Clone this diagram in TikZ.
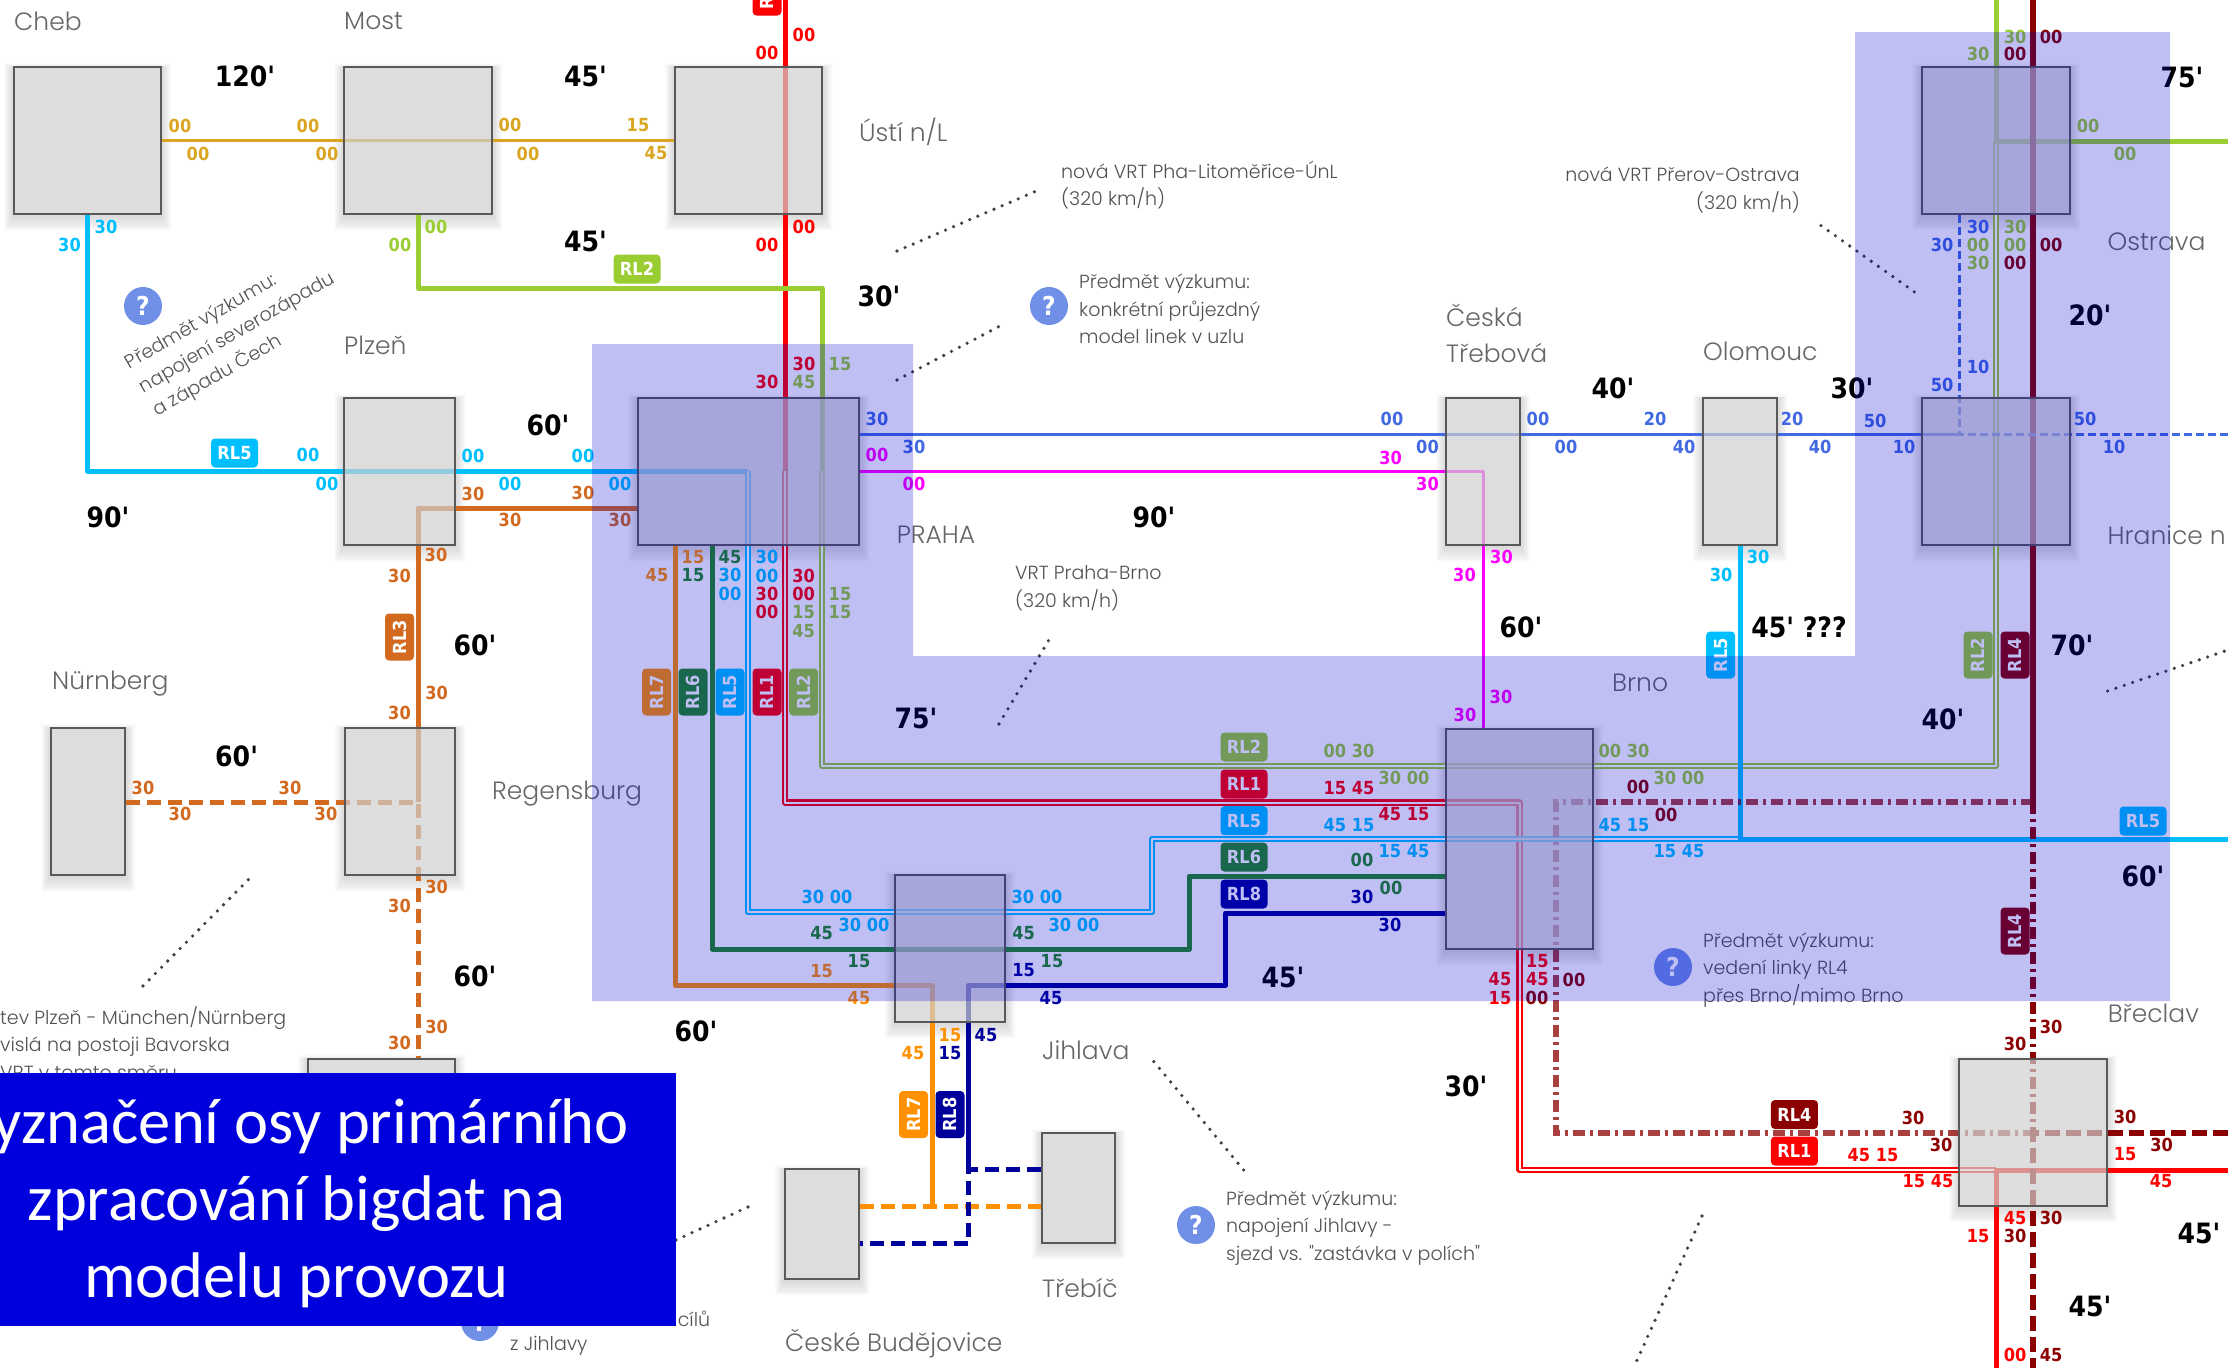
\documentclass[tikz,border=0pt]{standalone}
\usepackage{fontspec}
\newfontfamily\namefont{Poppins Light}
\newfontfamily\lblfont{DejaVu Sans Condensed Bold}
\newfontfamily\bannerfont{Carlito}
\usetikzlibrary{arrows.meta, positioning, shapes.geometric}
\definecolor{rlgold}{HTML}{DAA520}
\definecolor{rlgreen}{HTML}{9ACD32}
\definecolor{rlcyan}{HTML}{00BFFF}
\definecolor{rlbrown}{HTML}{D2691E}
\definecolor{rlred}{HTML}{FF0000}
\definecolor{rlmaroon}{HTML}{8B0000}
\definecolor{rlorange}{HTML}{FF9000}
\definecolor{rlforest}{HTML}{228B22}
\definecolor{rlnavy}{HTML}{00009B}
\definecolor{rlblue}{HTML}{4169E1}
\definecolor{rlpink}{HTML}{FF00FF}
\definecolor{askblue}{HTML}{7090E8}
\definecolor{veilblue}{RGB}{0,0,210}
\definecolor{bannerblue}{RGB}{0,0,220}
\pgfdeclarelayer{back}
\pgfdeclarelayer{rails}
\pgfdeclarelayer{veil}
\pgfdeclarelayer{top}
\pgfsetlayers{back,rails,main,veil,top}
\tikzset{
  stn/.style={draw=black!65, fill=black!19, fill opacity=.7, draw opacity=1, line width=2, inner sep=0},
  rail/.style={line width=5, line join=round},
  thin rail/.style={line width=3, line join=round},
  twin/.style={line width=2.2, double=white, double distance=2, line join=round},
  dashrail/.style={rail, dash pattern=on 14 off 7},
  dotrail/.style={line width=6, dash pattern=on 12 off 5 on 3 off 5},
  lbl/.style={font=\lblfont\fontsize{18}{20}\selectfont, inner sep=0},
  tm/.style={font=\lblfont\fontsize{28}{30}\selectfont, inner sep=0},
  town/.style={font=\namefont\fontsize{25}{36}\selectfont, text=black!60, inner sep=0, anchor=west, align=left},
  note/.style={font=\namefont\fontsize{19}{27.5}\selectfont, text=black!68, inner sep=0, anchor=west, align=left},
  rl/.style={font=\lblfont\fontsize{18}{20}\selectfont, text=white, rounded corners=4, minimum width=47, minimum height=29, inner sep=0},
  ask/.style={circle, fill=askblue, text=white, font=\lblfont\fontsize{26}{28}\selectfont, minimum size=38, inner sep=0},
  pointer/.style={line width=3.6, line cap=round, dash pattern=on 0 off 8.8, black!75},
  title/.style={font=\bannerfont\fontsize{64.5}{70}\selectfont, text=white, inner sep=0}
}
\begin{document}
\begin{tikzpicture}[x=1pt, y=-1pt]
\useasboundingbox (0,0) rectangle (2228,1368);
\foreach \n/\lx/\ly/\w/\h in {cheb/87.5/140.5/147/147, most/418/140.5/148/147, usti/748.5/140.5/147/147,
  plzen/399.5/471.5/111/147, praha/748.5/471.5/221/147, trebova/1483/471.5/74/147, olomouc/1740/471.5/74/147,
  ostrava/1996/140.5/147.5/147, hranice/1996/471.5/147.5/147, regensburg/400/801.5/110/147, nurnberg/88/801.5/74/147,
  jihlava/950/948.5/110/147, brno/1519.5/839/147/220, breclav/2033/1132.5/147.5/147,
  trebic/1078.5/1188/73/110, budejovice/822/1224/74/110, munchen/381.5/1132/147/147}{
  \node[stn, minimum width=\w, minimum height=\h] (\n) at (\lx,\ly) {};
  \begin{pgfonlayer}{back}
    \foreach \k in {1,...,9}
      \fill[black, opacity=.016, even odd rule] ([shift={(-\k,{min(\k,6)-\k})}]\n.north west) rectangle ([shift={(\k,{min(\k,6)+\k})}]\n.south east)
        (\n.north west) rectangle (\n.south east);
  \end{pgfonlayer}
}
\coordinate (rl1top) at (785,0);
\coordinate (rl1in) at (785,471);
\coordinate (rl1a) at (785,802.5);
\coordinate (rl1b) at (1519.5,1170);
\coordinate (rl1c) at (1996,1170);
\coordinate (rl1e) at (2228,1170);
\coordinate (rl1s) at (1996,1368);
\coordinate (rl2a) at (822,288);
\coordinate (rl2in) at (822,471);
\coordinate (rl2b) at (1996,766);
\coordinate (rl2c) at (1996,141);
\coordinate (rl2e) at (2228,141);
\coordinate (rl2top) at (1996,0);
\coordinate (rl3a) at (418,508);
\coordinate (rl3j) at (418,802);
\coordinate (rl4top) at (2033,0);
\coordinate (rl4a) at (2033,802);
\coordinate (rl4b) at (1555.5,802);
\coordinate (rl4c) at (1555.5,1132.5);
\coordinate (rl4d) at (2033,1132.5);
\coordinate (rl4e) at (2228,1132.5);
\coordinate (rl4s) at (2033,1368);
\coordinate (rl5in) at (748,471);
\coordinate (rl5a) at (748,912);
\coordinate (rl5b) at (1152,839);
\coordinate (rl5c) at (1740,839);
\coordinate (rl5e) at (2228,839);
\coordinate (rl6a) at (712,949);
\coordinate (rl6b) at (1189,876);
\coordinate (rl7a) at (675,985.5);
\coordinate (rl7b) at (932,1206);
\coordinate (rl8a) at (968.5,985.5);
\coordinate (rl8b) at (1225.5,913);
\coordinate (rl8c) at (968.5,1169);
\coordinate (rl8d) at (968.5,1243);
\coordinate (vrta) at (859,434.5);
\coordinate (vrtb) at (1959.5,434.5);
\coordinate (vrte) at (2228,434.5);
\coordinate (pinka) at (859,471);
\coordinate (pinkb) at (1483,471);
\begin{pgfonlayer}{rails}
  \draw[thin rail, rlgold] (cheb.east) -- (usti.west);
  \draw[rail, rlred] (rl1top) -- (rl1in);
  \draw[twin, rlred] (rl1in) -- (rl1a) -| (rl1b) -- (rl1c);
  \draw[rail, rlred] (rl1s) |- (rl1e);
  \draw[rail, rlgreen] (most.south) |- (rl2a) -- (rl2in);
  \draw[twin, rlgreen] (rl2in) |- (rl2b) -- (rl2c);
  \draw[rail, rlgreen] (rl2top) |- (rl2e);
  \draw[rail, rlcyan] (cheb.south) |- (rl5in);
  \draw[twin, rlcyan] (rl5in) -- (rl5a) -| (rl5b) -- (rl5c);
  \draw[rail, rlcyan] (olomouc.south) |- (rl5e);
  \draw[rail, rlbrown] (praha.west |- rl3a) -- (rl3a) -- (rl3j);
  \draw[dashrail, rlbrown] (nurnberg.east |- rl3j) -- (rl3j) -- (munchen.north -| rl3j);
  \draw[rail, rlorange] (praha.south -| rl7a) -- (rl7a) -| (rl7b);
  \draw[dashrail, rlorange] (budejovice.east |- rl7b) -- (trebic.west |- rl7b);
  \draw[rail, rlforest] (praha.south -| rl6a) -- (rl6a) -| (rl6b) -- (brno.west |- rl6b);
  \draw[rail, rlnavy] (brno.west |- rl8b) -- (rl8b) |- (rl8a) -- (rl8c);
  \draw[dashrail, rlnavy] (trebic.west |- rl8c) -- (rl8c) -- (rl8d) -- (budejovice.east |- rl8d);
  \draw[rail, line width=6, rlmaroon] (rl4top) -- (rl4a);
  \draw[dotrail, rlmaroon] (rl4a) -- (rl4d);
  \draw[dotrail, rlmaroon, opacity=.75] (rl4a) -- (rl4b) -- (rl4c) -- (rl4d);
  \draw[rail, line width=6, dash pattern=on 15 off 6, rlmaroon] (rl4e) -- (rl4d) -- (rl4s);
  \draw[thin rail, rlblue] (vrta) -- (vrtb);
  \draw[thin rail, dash pattern=on 8 off 4, rlblue] (vrte) -- (vrtb) -- (ostrava.south -| vrtb);
  \draw[thin rail, rlpink] (pinka) -| (trebova.south) -- (brno.north -| trebova.south);
\end{pgfonlayer}
\foreach \lx/\ly/\txt [count=\i] in {180/126/00, 198/153.5/00, 308/126/00, 327/153.5/00, 510/125/00, 528/153.5/00, 638/125/15, 656/153.5/45}
  \node[lbl, text=rlgold] (gold\i) at (\lx,\ly) {\txt};
\foreach \lx/\ly/\txt [count=\i] in {804/35/00, 767/52.5/00, 804/227/00, 767/244.5/00, 804/364/30, 767/382/30, 767/593.5/30, 767/612/00, 803.6/576/30, 803.6/594/00,
  1349/788/15 45, 1404/814/45 15, 1537.4/961/15, 1500/979/45, 1537.4/979/45, 1500/998/15, 2015/1218.5/45, 1978/1236/15, 2015/1355/00,
  1873/1155/45 15, 1928/1181.5/15 45, 2125/1153.6/15, 2161/1181.5/45}
  \node[lbl, text=rlred] (red\i) at (\lx,\ly) {\txt};
\foreach \lx/\ly/\txt [count=\i] in {436/227/00, 400/244.5/00, 840/364/15, 804/382/45, 803.6/612/15, 803.6/631/45, 840/594/15, 840/612/15, 1349/751/00 30, 1404/778/30 00,
  1624/751/00 30, 1679/778/30 00, 2015/37/30, 1978/54/30, 2088/125.7/00, 2125/153.5/00, 1978/244.5/00, 1978/263/30, 2015/227/30, 2015/244.5/00}
  \node[lbl, text=rlgreen] (green\i) at (\lx,\ly) {\txt};
\foreach \lx/\ly/\txt [count=\i] in {106/227/30, 69.5/244.5/30, 308/455/00, 327/484/00, 473/456/00, 510/484/00, 583/456/00, 620/484/00, 767/557/30, 730/575/30, 730/593.5/00, 767/576/00,
  827/897/30 00, 864/924.5/30 00, 1037/897/30 00, 1074/924.5/30 00, 1349/825/45 15, 1404/851/15 45, 1624/825/45 15, 1679/851/15 45, 1758/557/30, 1721/575/30}
  \node[lbl, text=rlcyan] (cyan\i) at (\lx,\ly) {\txt};
\foreach \lx/\ly/\txt [count=\i] in {473/494/30, 510/520/30, 583/493/30, 620/520/30, 436/555/30, 399.5/575.5/30, 436.6/693/30, 399.5/713/30, 143/788/30, 180/814/30, 290/788/30, 326/814/30,
  436.6/887/30, 399.5/906/30, 436.6/1027/30, 399.5/1043/30}
  \node[lbl, text=rlbrown] (brown\i) at (\lx,\ly) {\txt};
\foreach \lx/\ly/\txt [count=\i] in {693/557/15, 657/575/45, 821.6/971/15, 859/998/45, 950/1035/15, 913/1053/45}
  \node[lbl, text=rlorange] (orange\i) at (\lx,\ly) {\txt};
\foreach \lx/\ly/\txt [count=\i] in {730/557/45, 693/575/15, 821.6/933.5/45, 859/961/15, 1023.6/933.5/45, 1052/961/15, 1362/860/00, 1391/888/00}
  \node[lbl, text=rlforest] (forest\i) at (\lx,\ly) {\txt};
\foreach \lx/\ly/\txt [count=\i] in {1023.6/970/15, 1051/998/45, 986/1035/45, 950/1053/15, 1362/897/30, 1390/925/30}
  \node[lbl, text=rlnavy] (navy\i) at (\lx,\ly) {\txt};
\foreach \lx/\ly/\txt [count=\i] in {1638/787/00, 1666/815/00, 1537/998/00, 1574/980/00, 2051/37/00, 2015/54/00, 2015/263/00, 2051/245/00, 2051/1027/30, 2015/1044/30,
  1913/1118/30, 1941/1145/30, 2125/1116.5/30, 2161.7/1145/30, 2051/1218/30, 2015/1236/30, 2051/1354.6/45}
  \node[lbl, text=rlmaroon] (maroon\i) at (\lx,\ly) {\txt};
\foreach \lx/\ly/\txt [count=\i] in {877/419/30, 914/447/30, 1392/419/00, 1427.5/447/00, 1538/419/00, 1566/447/00, 1655/419/20, 1684/447/40, 1792/419/20, 1820/447/40, 1875/420.5/50, 1904/447/10,
  1942/384.5/50, 1978/366.7/10, 2085/419/50, 2114/447/10, 1978/227/30, 1942/244.5/30}
  \node[lbl, text=rlblue] (blue\i) at (\lx,\ly) {\txt};
\foreach \lx/\ly/\txt [count=\i] in {877/455/00, 914/484/00, 1390.6/457.5/30, 1427.5/484/30, 1501.5/557/30, 1464.5/575/30, 1501/697/30, 1465/715/30}
  \node[lbl, text=rlpink] (pink\i) at (\lx,\ly) {\txt};
\foreach \lx/\ly/\txt [count=\i] in {245/76/120', 585.5/76/45', 585.5/241/45', 548/425/60', 108/517/90', 879/296.5/30', 1154/517/90', 1613/388/40', 1521/627/60', 1852/388.5/30', 2182/77/75', 2090/315/20',
  1799/627/45' ???, 2072/645/70', 1943/719/40', 2143/876.4/60', 475/645/60', 236.6/756/60', 475/976/60', 696/1031/60', 916/718.5/75', 1283/977/45', 1466/1086/30', 2090/1306/45', 2199/1233/45'}
  \node[tm] (time\i) at (\lx,\ly) {\txt};
\foreach \lx/\ly/\txt/\col [count=\i] in {234.5/453/RL5/rlcyan, 637/269/RL2/rlgreen, 1244/747/RL2/rlgreen, 1244/784/RL1/rlred, 1244/820.7/RL5/rlcyan, 1244/857/RL6/rlforest, 1244/894/RL8/rlnavy,
  2143/821/RL5/rlcyan, 1794.4/1114.5/RL4/rlmaroon, 1794.4/1151/RL1/rlred}
  \node[rl, fill=\col] (flat\i) at (\lx,\ly) {\txt};
\foreach \lx/\ly/\txt/\col [count=\i] in {767/-8/RL1/rlred, 399.5/637/RL3/rlbrown, 656.6/692/RL7/rlorange, 693/692/RL6/rlforest, 730/692/RL5/rlcyan, 767/692/RL1/rlred, 803.6/692/RL2/rlgreen,
  913.5/1114.5/RL7/rlorange, 950/1114.5/RL8/rlnavy, 1720.6/655/RL5/rlcyan, 1978/655/RL2/rlgreen, 2015/655/RL4/rlmaroon, 2015/931/RL4/rlmaroon}
  \node[rl, rotate=90, fill=\col] (up\i) at (\lx,\ly) {\txt};
\foreach \lx/\ly/\txt [count=\i] in {14/21/Cheb, 344/21/Most, 344/345.6/Plzeň, 896.6/534.5/PRAHA, 1703/351.6/Olomouc, 2107.4/242/Ostrava, 2107.4/535.5/Hranice n, 1612/683/Brno,
  2107.6/1013.5/Břeclav, 492/794/Regensburg, 52/684/Nürnberg, 1042/1050/Jihlava, 1042/1288/Třebíč, 785/1344/České Budějovice}
  \node[town] (town\i) at (\lx,\ly) {\txt};
\node[town] (townusti) at (859,132) {Ústí n/L};
\node[town] (townct) at (1446,333) {Česká\\Třebová};
\node[note] (notevrt) at (1061,185) {nová VRT Pha-Litoměřice-ÚnL\\(320 km/h)};
\node[note, anchor=east, align=right] (notepo) at (1800,190) {nová VRT Přerov-Ostrava\\(320 km/h)};
\node[note] (notepb) at (1015,588) {VRT Praha-Brno\\(320 km/h)};
\node[note] (notepraha) at (1079,309) {Předmět výzkumu:\\konkrétní průjezdný\\model linek v uzlu};
\node[note] (notebrno) at (1703,970) {Předmět výzkumu:\\vedení linky RL4\\přes Brno/mimo Brno};
\node[note] (notejih) at (1226,1228) {Předmět výzkumu:\\napojení Jihlavy -\\sjezd vs. "zastávka v polích"};
\node[note, rotate=30] (notecech) at (141,389) {Předmět výzkumu:\\napojení severozápadu\\a západu Čech};
\node[note] (notede) at (0,1043) {tev Plzeň - München/Nürnberg\\vislá na postoji Bavorska\\VRT v tomto směru};
\node[note] (notebud) at (510,1346) {z Jihlavy};
\node[note] (notecil) at (677.6,1318.5) {cílů};
\node[ask] (askcech) at (143,306) {?};
\node[ask] (askpraha) at (1049,306) {?};
\node[ask] (askbrno) at (1673,967) {?};
\node[ask] (askjih) at (1196,1225) {?};
\node[ask] (askbud) at (480,1322) {?};
\coordinate (pta) at (897,251);
\coordinate (ptb) at (1041,189);
\coordinate (ptc) at (897,380);
\coordinate (ptd) at (1004.5,323.6);
\coordinate (pte) at (999,724);
\coordinate (ptf) at (1050,638);
\coordinate (ptg) at (1821,225.6);
\coordinate (pth) at (1918,294.5);
\coordinate (pti) at (2107.6,691);
\coordinate (ptj) at (2228,650);
\coordinate (ptk) at (143,986);
\coordinate (ptl) at (252,876);
\coordinate (ptm) at (1243.6,1170);
\coordinate (ptn) at (1152.5,1060);
\coordinate (pto) at (1702,1216);
\coordinate (ptp) at (1634,1367);
\coordinate (ptq) at (676,1240);
\coordinate (ptr) at (748,1207);
\foreach \pa/\pb in {pta/ptb, ptc/ptd, pte/ptf, ptg/pth, pti/ptj, ptk/ptl, ptm/ptn, pto/ptp, ptq/ptr}
  \draw[pointer] (\pa) -- (\pb);
\begin{pgfonlayer}{veil}
  \fill[veilblue, opacity=.25] (592,344) -- (913,344) -- (913,656) -- (1855,656) -- (1855,32) -- (2170,32) -- (2170,1001) -- (592,1001) -- cycle;
\end{pgfonlayer}
\begin{pgfonlayer}{top}
  \node[fill=bannerblue, minimum width=676, minimum height=253, inner sep=0, anchor=north west] (banner) at (0,1073) {};
  \node[title, anchor=base east] (titlea) at (629,1143) {yznačení osy primárního};
  \node[title, anchor=base] (titleb) at (296.5,1220) {zpracování bigdat na};
  \node[title, anchor=base] (titlec) at (296.5,1297) {modelu provozu};
\end{pgfonlayer}
\end{tikzpicture}
\end{document}
